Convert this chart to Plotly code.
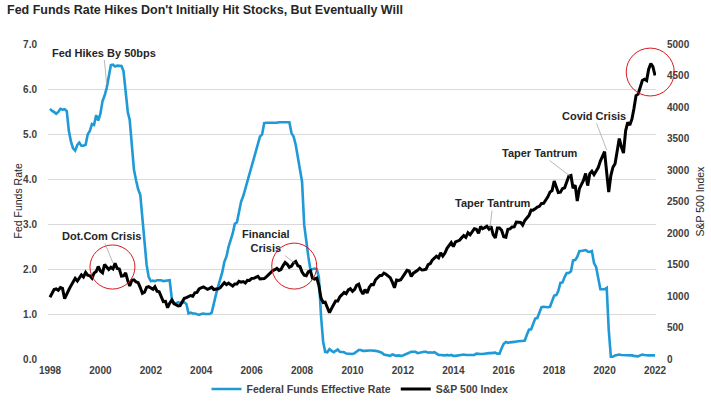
import plotly.graph_objects as go

# ---------------- data (monthly, Jan 1998 - Jan 2022) ----------------
months = [f"{y}-{m:02d}-01" for y in range(1998, 2022) for m in range(1, 13)] + ["2022-01-01"]

fed_funds = [
    5.56, 5.51, 5.49, 5.45, 5.49, 5.56, 5.54, 5.55, 5.51, 5.07, 4.83, 4.68,   # 1998
    4.63, 4.76, 4.81, 4.74, 4.74, 4.76, 4.99, 5.07, 5.22, 5.20, 5.42, 5.30,   # 1999
    5.45, 5.73, 5.85, 6.02, 6.27, 6.53, 6.54, 6.50, 6.52, 6.51, 6.51, 6.40,   # 2000
    5.98, 5.49, 5.31, 4.80, 4.21, 3.97, 3.77, 3.65, 3.07, 2.49, 2.09, 1.82,   # 2001
    1.73, 1.74, 1.73, 1.75, 1.75, 1.75, 1.73, 1.74, 1.75, 1.75, 1.34, 1.24,   # 2002
    1.24, 1.26, 1.25, 1.26, 1.26, 1.22, 1.01, 1.03, 1.01, 1.01, 1.00, 0.98,   # 2003
    1.00, 1.01, 1.00, 1.00, 1.00, 1.03, 1.26, 1.43, 1.61, 1.76, 1.93, 2.16,   # 2004
    2.28, 2.50, 2.63, 2.79, 3.00, 3.04, 3.26, 3.50, 3.62, 3.78, 4.00, 4.16,   # 2005
    4.29, 4.49, 4.59, 4.79, 4.94, 4.99, 5.24, 5.25, 5.25, 5.25, 5.25, 5.24,   # 2006
    5.25, 5.26, 5.26, 5.25, 5.25, 5.25, 5.26, 5.02, 4.94, 4.76, 4.49, 4.24,   # 2007
    3.94, 2.98, 2.61, 2.28, 1.98, 2.00, 2.01, 2.00, 1.81, 0.97, 0.39, 0.16,   # 2008
    0.15, 0.22, 0.18, 0.15, 0.18, 0.21, 0.16, 0.16, 0.15, 0.12, 0.12, 0.12,   # 2009
    0.11, 0.13, 0.16, 0.20, 0.20, 0.18, 0.18, 0.19, 0.19, 0.19, 0.19, 0.18,   # 2010
    0.17, 0.16, 0.14, 0.10, 0.09, 0.09, 0.07, 0.10, 0.08, 0.07, 0.08, 0.07,   # 2011
    0.08, 0.10, 0.13, 0.14, 0.16, 0.16, 0.16, 0.13, 0.14, 0.16, 0.16, 0.16,   # 2012
    0.14, 0.15, 0.14, 0.15, 0.11, 0.09, 0.09, 0.08, 0.08, 0.09, 0.08, 0.09,   # 2013
    0.07, 0.07, 0.08, 0.09, 0.09, 0.10, 0.09, 0.09, 0.09, 0.09, 0.09, 0.12,   # 2014
    0.11, 0.11, 0.11, 0.12, 0.12, 0.13, 0.13, 0.14, 0.14, 0.12, 0.12, 0.24,   # 2015
    0.34, 0.38, 0.36, 0.37, 0.37, 0.38, 0.39, 0.40, 0.40, 0.40, 0.41, 0.54,   # 2016
    0.65, 0.66, 0.79, 0.90, 0.91, 1.04, 1.15, 1.16, 1.15, 1.15, 1.16, 1.30,   # 2017
    1.41, 1.42, 1.51, 1.69, 1.70, 1.82, 1.91, 1.91, 1.95, 2.19, 2.20, 2.27,   # 2018
    2.40, 2.40, 2.41, 2.42, 2.39, 2.38, 2.40, 2.13, 2.04, 1.83, 1.55, 1.55,   # 2019
    1.55, 1.58, 0.65, 0.05, 0.05, 0.08, 0.09, 0.10, 0.09, 0.09, 0.09, 0.09,   # 2020
    0.09, 0.08, 0.07, 0.07, 0.06, 0.08, 0.10, 0.09, 0.08, 0.08, 0.08, 0.08,   # 2021
    0.08,                                                                     # 2022
]

sp500 = [
    980, 1049, 1102, 1112, 1091, 1134, 1121, 957, 1017, 1099, 1164, 1229,     # 1998
    1280, 1238, 1286, 1335, 1302, 1373, 1329, 1320, 1283, 1363, 1389, 1469,   # 1999
    1394, 1366, 1499, 1452, 1421, 1455, 1431, 1518, 1437, 1429, 1315, 1320,   # 2000
    1366, 1240, 1160, 1249, 1256, 1224, 1211, 1134, 1041, 1060, 1139, 1148,   # 2001
    1130, 1107, 1147, 1077, 1067, 990, 912, 916, 815, 886, 936, 880,          # 2002
    856, 841, 848, 917, 964, 975, 990, 1008, 996, 1051, 1058, 1112,           # 2003
    1131, 1145, 1126, 1107, 1121, 1141, 1102, 1104, 1115, 1130, 1174, 1212,   # 2004
    1181, 1204, 1181, 1157, 1192, 1191, 1234, 1220, 1229, 1207, 1249, 1248,   # 2005
    1280, 1281, 1295, 1311, 1270, 1270, 1277, 1304, 1336, 1378, 1401, 1418,   # 2006
    1438, 1407, 1421, 1482, 1531, 1503, 1455, 1474, 1527, 1549, 1481, 1468,   # 2007
    1379, 1331, 1323, 1386, 1400, 1280, 1267, 1283, 1166, 969, 896, 903,      # 2008
    826, 735, 798, 873, 919, 919, 987, 1021, 1057, 1036, 1096, 1115,         # 2009
    1074, 1104, 1169, 1187, 1089, 1031, 1102, 1049, 1141, 1183, 1181, 1258,   # 2010
    1286, 1327, 1326, 1364, 1345, 1321, 1292, 1219, 1131, 1253, 1247, 1258,   # 2011
    1312, 1366, 1408, 1398, 1310, 1362, 1379, 1407, 1441, 1412, 1416, 1426,   # 2012
    1498, 1515, 1569, 1598, 1631, 1606, 1686, 1633, 1682, 1757, 1806, 1848,   # 2013
    1783, 1859, 1872, 1884, 1924, 1960, 1931, 2003, 1972, 2018, 2068, 2059,   # 2014
    1995, 2105, 2068, 2086, 2107, 2063, 2104, 1972, 1920, 2079, 2080, 2044,   # 2015
    1940, 1932, 2060, 2065, 2097, 2099, 2174, 2171, 2168, 2126, 2199, 2239,   # 2016
    2279, 2364, 2363, 2384, 2412, 2423, 2470, 2472, 2519, 2575, 2648, 2674,   # 2017
    2824, 2714, 2641, 2648, 2705, 2718, 2816, 2902, 2914, 2712, 2760, 2507,   # 2018
    2704, 2784, 2834, 2946, 2752, 2942, 2980, 2926, 2977, 3038, 3141, 3231,   # 2019
    3290, 2954, 2650, 2912, 3044, 3100, 3271, 3500, 3363, 3270, 3622, 3756,   # 2020
    3714, 3811, 3973, 4181, 4204, 4298, 4420, 4440, 4420, 4600, 4690, 4640,   # 2021
    4500,                                                                     # 2022
]

tick_dates = [f"{y}-01-01" for y in range(1998, 2023, 2)]
tick_labels = [str(y) for y in range(1998, 2023, 2)]
left_ticks = [0, 1, 2, 3, 4, 5, 6, 7]
right_ticks = list(range(0, 5001, 500))

# ---------------- styling ----------------
BLUE = "#1F9AD6"
BLACK = "#000000"
TXT = "#404040"
FONT = "Liberation Sans, Arial, sans-serif"
GRID = "#D9D9D9"

fig = go.Figure()
fig.add_trace(go.Scatter(x=months, y=fed_funds, mode="lines",
                         name="Federal Funds Effective Rate",
                         line=dict(color=BLUE, width=2.6), yaxis="y"))
fig.add_trace(go.Scatter(x=months, y=sp500, mode="lines",
                         name="S&P 500 Index",
                         line=dict(color=BLACK, width=3), yaxis="y2"))

tickfont = dict(family=FONT, size=10, color=TXT, weight="bold")

fig.update_layout(
    width=711, height=412,
    margin=dict(l=48, r=55, t=44, b=53, autoexpand=False),
    paper_bgcolor="white", plot_bgcolor="white",
    font=dict(family=FONT, color=TXT),
    showlegend=True,
    title=dict(text="Fed Funds Rate Hikes Don't Initially Hit Stocks, But Eventually Will",
               font=dict(family=FONT, size=12.5, color="#262626", weight="bold"),
               xref="container", yref="container", x=7/711, xanchor="left",
               y=1 - 10/412, yanchor="middle"),
    xaxis=dict(type="date", range=["1997-12-03", "2022-01-15"], automargin=False,
               tickvals=tick_dates, ticktext=tick_labels, tickfont=tickfont,
               showgrid=False, zeroline=False, showline=False, ticks="",
               ticklabelstandoff=4),
    yaxis=dict(range=[0, 7], tickvals=left_ticks, tickformat=".1f", tickfont=tickfont,
               automargin=False,
               showgrid=True, gridcolor=GRID, gridwidth=1, zeroline=False,
               showline=False, ticks="", ticklabelstandoff=10),
    yaxis2=dict(range=[0, 5000], tickvals=right_ticks, tickfont=tickfont,
                automargin=False,
                overlaying="y", side="right", showgrid=False, zeroline=False,
                showline=False, ticks="", ticklabelstandoff=10),
    legend=dict(orientation="h", xref="container", yref="container",
                x=360/711, xanchor="center", y=1 - 389/412, yanchor="middle",
                font=dict(family=FONT, size=10.5, color=TXT, weight="bold"),
                itemwidth=30, traceorder="normal"),
)

# axis titles
axis_title_font = dict(family=FONT, size=10.5, color="#262626")
fig.add_annotation(text="Fed Funds Rate", xref="paper", yref="paper",
                   x=-31/608, y=0.5, textangle=-90, showarrow=False,
                   font=axis_title_font, xanchor="center", yanchor="middle")
fig.add_annotation(text="S&P 500 Index", xref="paper", yref="paper",
                   x=1 + 43/608, y=0.5, textangle=-90, showarrow=False,
                   font=axis_title_font, xanchor="center", yanchor="middle")

# red circles (positions in paper coordinates)
circles = [
    (0.069, 0.222, 0.143, 0.362),
    (0.368, 0.222, 0.442, 0.368),
    (0.951, 0.835, 1.030, 0.987),
]
for x0, y0, x1, y1 in circles:
    fig.add_shape(type="circle", xref="paper", yref="paper",
                  x0=x0, y0=y0, x1=x1, y1=y1,
                  line=dict(color="#D7191C", width=1), layer="above")

ann_font = dict(family=FONT, size=11, color="#262626", weight="bold")
annotations = [
    ("Fed Hikes By 50bps", "2000-04-01", 6.1, "y", -3, -32),
    ("Dot.Com Crisis", "2000-07-01", 1524, "y2", -11, -27),
    ("Financial<br>Crisis", "2007-09-15", 1524, "y2", -29, -22),
    ("Taper Tantrum", "2015-06-15", 2080, "y2", 3, -25),
    ("Taper Tantrum", "2018-08-15", 2905, "y2", -30, -23),
    ("Covid Crisis", "2020-02-01", 3317, "y2", -13, -34),
]
for text, x, y, yref, ax, ay in annotations:
    fig.add_annotation(text=text, x=x, y=y, xref="x", yref=yref,
                       ax=ax, ay=ay, axref="pixel", ayref="pixel",
                       showarrow=True, arrowhead=0, arrowwidth=0.8,
                       arrowcolor="#A6A6A6", standoff=0, startstandoff=0,
                       font=ann_font, align="center")

# remove the browser's default page margin so the 711x412 figure fills the window
fig.write_html("out.html",
               config={"displayModeBar": False},
               post_script="document.body.style.margin='0px';document.body.style.overflow='hidden';")
